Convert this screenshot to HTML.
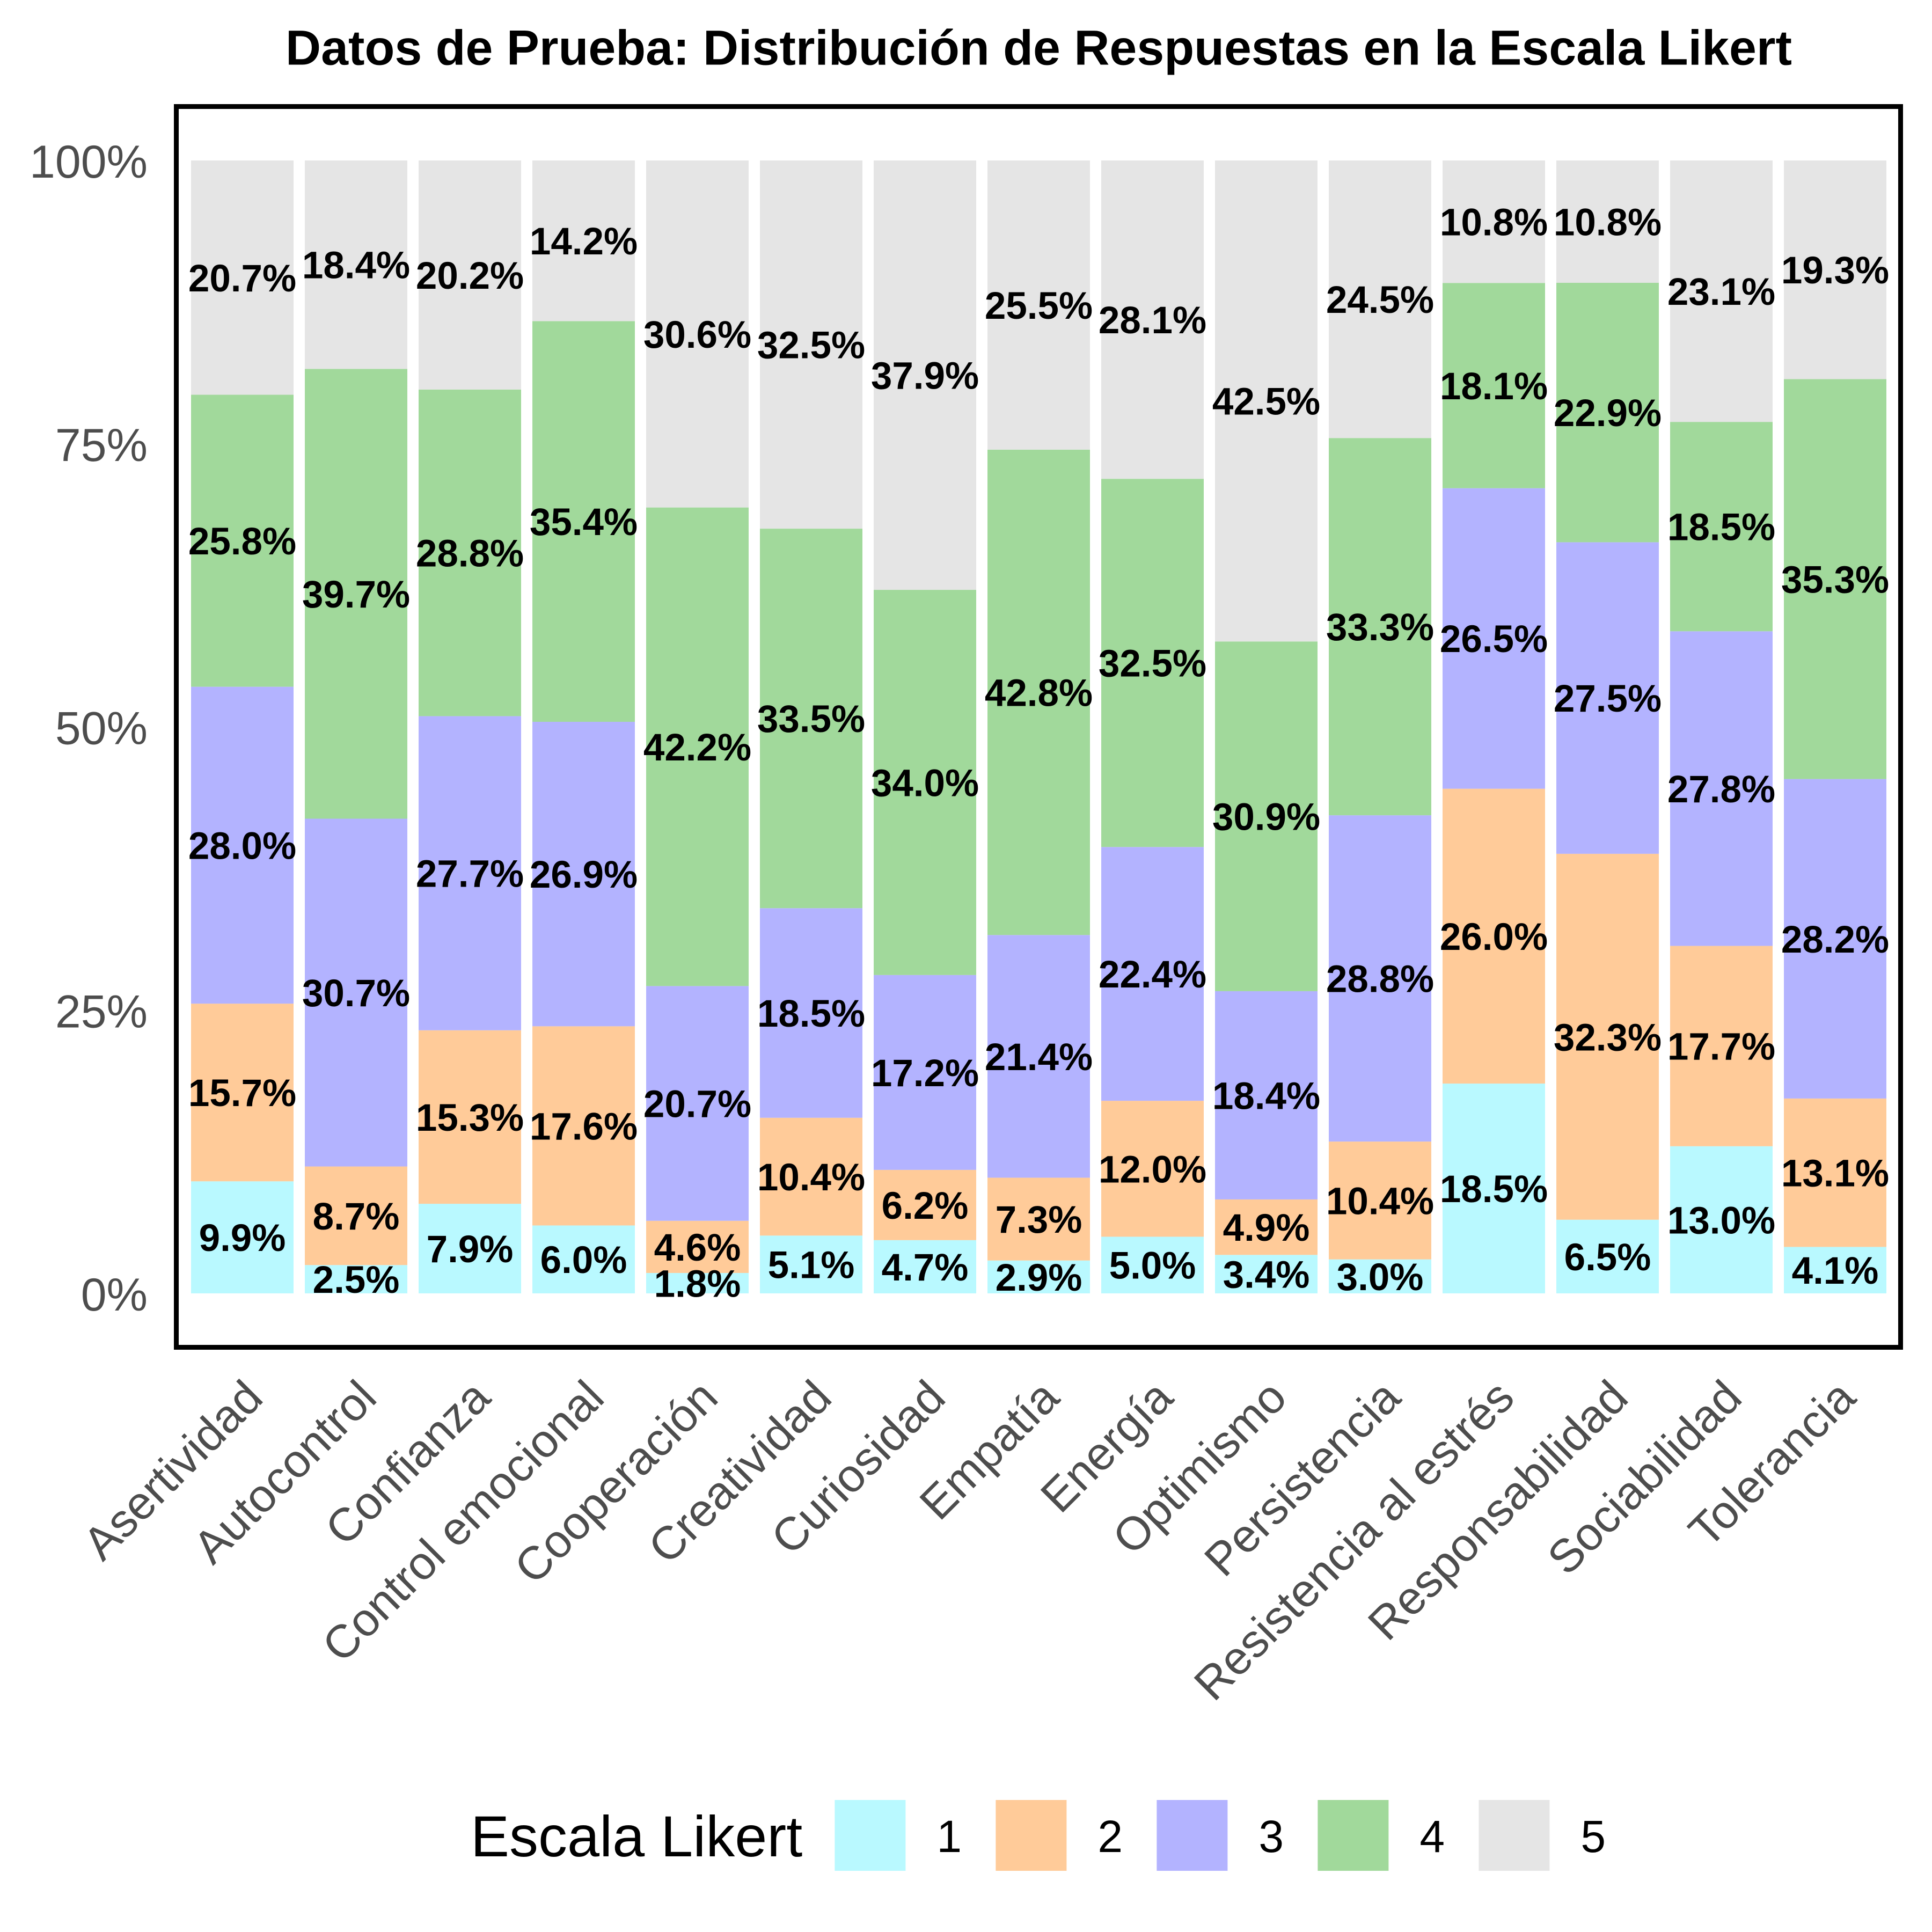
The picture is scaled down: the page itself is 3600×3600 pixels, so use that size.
<!DOCTYPE html>
<html lang="es">
<head>
<meta charset="utf-8">
<title>Datos de Prueba: Distribución de Respuestas en la Escala Likert</title>
<style>
html,body{margin:0;padding:0;background:#fff;width:3600px;height:3600px;overflow:hidden}
svg{display:block}
text{font-family:"Liberation Sans",Arial,Helvetica,sans-serif}
</style>
</head>
<body>
<svg id="chart" xmlns="http://www.w3.org/2000/svg" width="3600" height="3600" viewBox="0 0 3600 3600">
  <rect x="0" y="0" width="3600" height="3600" fill="#ffffff"/>
  <g id="bars"></g>
  <g id="bar-labels"></g>
  <rect x="328.5" y="198.5" width="3213" height="2312" fill="none" stroke="#000000" stroke-width="9"/>
  <text x="1935.5" y="120.5" text-anchor="middle" font-size="91.5" font-weight="700" fill="#000000">Datos de Prueba: Distribución de Respuestas en la Escala Likert</text>
  <g id="y-axis"></g>
  <g id="x-axis"></g>
  <g id="legend">
    <text x="877" y="3459" font-size="108" fill="#000000">Escala Likert</text>
  </g>
</svg>
<script>
const categories = ["Asertividad","Autocontrol","Confianza","Control emocional","Cooperación","Creatividad","Curiosidad","Empatía","Energía","Optimismo","Persistencia","Resistencia al estrés","Responsabilidad","Sociabilidad","Tolerancia"];
const series1 = [9.9,2.5,7.9,6.0,1.8,5.1,4.7,2.9,5.0,3.4,3.0,18.5,6.5,13.0,4.1];
const series2 = [15.7,8.7,15.3,17.6,4.6,10.4,6.2,7.3,12.0,4.9,10.4,26.0,32.3,17.7,13.1];
const series3 = [28.0,30.7,27.7,26.9,20.7,18.5,17.2,21.4,22.4,18.4,28.8,26.5,27.5,27.8,28.2];
const series4 = [25.8,39.7,28.8,35.4,42.2,33.5,34.0,42.8,32.5,30.9,33.3,18.1,22.9,18.5,35.3];
const series5 = [20.7,18.4,20.2,14.2,30.6,32.5,37.9,25.5,28.1,42.5,24.5,10.8,10.8,23.1,19.3];
const seriesNames = ["1","2","3","4","5"];
const seriesColors = ["#B9F9FF","#FFCB99","#B3B3FF","#A1D99B","#E5E5E5"];
const yTicks = [0,25,50,75,100];

const allSeries = [series1,series2,series3,series4,series5];
const SVG_NS = "http://www.w3.org/2000/svg";
const PLOT_X0 = 451.5, STEP = 212, BAR_W = 191, Y0 = 2410, Y100 = 299;
function xScale(i){ return PLOT_X0 + STEP * i; }
function yScale(p){ return Y0 + (Y100 - Y0) * p / 100; }
function mk(tag, attrs, parent){
  const el = document.createElementNS(SVG_NS, tag);
  for (const k in attrs) el.setAttribute(k, attrs[k]);
  parent.appendChild(el);
  return el;
}

const barsG = document.getElementById("bars");
const labelsG = document.getElementById("bar-labels");
categories.forEach(function(cat, i){
  const total = allSeries.reduce(function(s, arr){ return s + arr[i]; }, 0);
  let cum = 0;
  allSeries.forEach(function(arr, s){
    const v = arr[i];
    const share = v / total * 100;
    const yTop = yScale(cum + share);
    const yBot = yScale(cum);
    const r = mk("rect", {x: xScale(i) - BAR_W / 2, y: yTop, width: BAR_W, height: yBot - yTop, fill: seriesColors[s]}, barsG);
    
    
    const t = mk("text", {x: xScale(i), y: yScale(cum + share / 2) + 25.5, "text-anchor": "middle", "font-size": 71, "font-weight": 700, fill: "#000000"}, labelsG);
    
    
    t.textContent = v.toFixed(1) + "%";
    cum += share;
  });
});

const yG = document.getElementById("y-axis");
yTicks.forEach(function(v){
  const t = mk("text", {x: 275, y: yScale(v) + 32, "text-anchor": "end", "font-size": 86, fill: "#4D4D4D"}, yG);
  
  
  t.textContent = v + "%";
});

const xG = document.getElementById("x-axis");
categories.forEach(function(cat, i){
  const ax = xScale(i) + 42.5;
  const ay = 2609;
  const t = mk("text", {x: ax, y: ay, "text-anchor": "end", "font-size": 86.5, fill: "#4D4D4D", transform: "rotate(-45 " + ax + " " + ay + ")"}, xG);
  
  
  t.textContent = cat;
});

const legendG = document.getElementById("legend");
seriesNames.forEach(function(name, s){
  const kx = 1555.4 + 300 * s;
  const k = mk("rect", {x: kx, y: 3354, width: 132, height: 132, fill: seriesColors[s]}, legendG);
  
  
  const t = mk("text", {x: kx + 190, y: 3451, "font-size": 84, fill: "#000000"}, legendG);
  
  
  t.textContent = name;
});
</script>
</body>
</html>
